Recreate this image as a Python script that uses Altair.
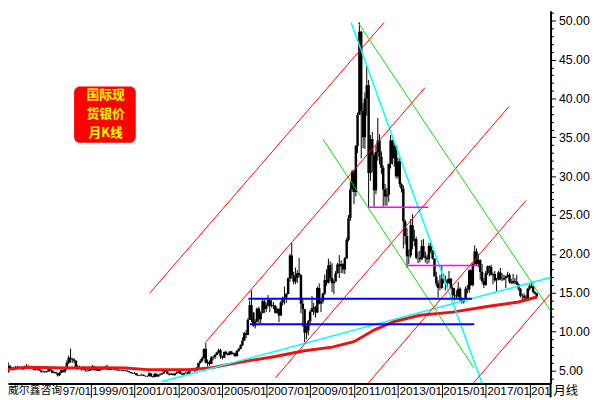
import altair as alt
import pandas as pd

# ---------------- monthly silver candles, 1995/01 - 2019/05 ----------------
opens = [
    4.83, 4.72, 4.63, 4.75, 5.57, 5.30, 5.07, 5.16, 5.42, 5.42, 5.30, 5.20,
    5.16, 5.55, 5.58, 5.48, 5.30, 5.34, 5.06, 5.07, 5.19, 4.98, 4.82, 4.86,
    4.78, 4.86, 5.18, 4.98, 4.70, 4.79, 4.65, 4.37, 4.69, 5.05, 4.87, 5.23,
    5.98, 6.62, 6.51, 6.40, 6.24, 5.34, 5.43, 5.30, 5.15, 5.29, 5.12, 5.08,
    5.00, 5.16, 5.54, 5.02, 5.35, 4.97, 5.11, 5.38, 5.20, 5.33, 5.12, 5.06,
    5.37, 5.30, 5.10, 5.05, 4.99, 5.00, 5.05, 4.98, 4.92, 4.88, 4.80, 4.68,
    4.59, 4.63, 4.39, 4.31, 4.38, 4.45, 4.30, 4.24, 4.29, 4.61, 4.22, 4.14,
    4.58, 4.23, 4.39, 4.48, 4.59, 4.93, 4.88, 4.58, 4.47, 4.56, 4.42, 4.60,
    4.74, 4.88, 4.57, 4.48, 4.66, 4.69, 4.58, 5.16, 5.03, 5.13, 4.99, 5.35,
    5.97, 6.25, 6.58, 7.77, 6.00, 6.09, 5.84, 6.65, 6.72, 6.98, 7.30, 7.58,
    6.82, 6.63, 7.38, 7.13, 6.97, 7.43, 7.10, 7.20, 6.82, 7.53, 7.78, 8.25,
    8.83, 9.83, 9.57, 11.50, 13.40, 12.47, 10.78, 11.26, 12.93, 11.60, 12.37, 13.89,
    12.90, 13.39, 14.05, 13.33, 13.43, 13.31, 12.42, 12.90, 12.08, 13.75, 14.30, 14.40,
    14.83, 16.85, 19.80, 17.25, 16.43, 16.90, 17.50, 17.25, 13.58, 12.87, 9.85, 10.15,
    11.30, 12.55, 13.00, 13.12, 12.45, 15.60, 13.60, 13.90, 14.90, 16.63, 16.30, 18.55,
    16.90, 16.21, 16.40, 17.50, 18.62, 18.40, 18.70, 18.00, 19.40, 21.80, 24.60, 28.30,
    30.60, 27.95, 33.90, 37.90, 48.60, 38.40, 35.00, 40.00, 41.70, 30.40, 34.80, 32.70,
    28.20, 33.10, 34.60, 32.50, 31.10, 28.30, 27.40, 27.60, 31.60, 34.60, 32.30, 33.90,
    30.00, 31.90, 29.00, 28.40, 24.20, 22.30, 19.70, 19.80, 23.70, 21.70, 21.90, 19.50,
    19.50, 19.30, 21.00, 19.70, 19.50, 19.30, 21.00, 20.40, 19.40, 17.10, 16.20, 15.60,
    15.60, 16.80, 16.60, 16.60, 16.30, 16.80, 15.60, 14.70, 14.60, 14.50, 15.50, 14.10,
    13.80, 14.20, 15.50, 15.40, 17.90, 16.00, 18.70, 20.30, 18.70, 19.20, 17.70, 16.50,
    16.00, 17.50, 18.40, 18.30, 17.30, 17.40, 16.60, 16.70, 17.60, 16.70, 16.70, 16.90,
    17.10, 17.30, 16.40, 16.30, 16.50, 16.40, 16.10, 15.50, 14.60, 14.60, 14.40, 14.20,
    15.50, 15.90, 15.80, 15.10, 14.90,
]
highs = [
    4.88, 4.76, 4.80, 6.04, 5.72, 5.40, 5.30, 5.58, 5.60, 5.52, 5.42, 5.30,
    5.62, 5.83, 5.65, 5.55, 5.43, 5.38, 5.17, 5.30, 5.25, 5.02, 4.98, 4.90,
    4.95, 5.28, 5.30, 5.00, 4.90, 4.80, 4.67, 4.78, 5.15, 5.10, 5.30, 6.27,
    6.90, 7.81, 6.60, 6.55, 6.30, 5.70, 5.60, 5.35, 5.55, 5.30, 5.12, 5.10,
    5.22, 5.72, 5.55, 5.40, 5.44, 5.20, 5.40, 5.40, 5.60, 5.75, 5.25, 5.40,
    5.45, 5.45, 5.15, 5.20, 5.08, 5.10, 5.07, 5.05, 5.05, 4.90, 4.80, 4.70,
    4.80, 4.65, 4.45, 4.43, 4.58, 4.48, 4.30, 4.33, 4.80, 4.65, 4.30, 4.65,
    4.60, 4.50, 4.68, 4.63, 5.10, 5.05, 4.95, 4.65, 4.70, 4.58, 4.63, 4.85,
    4.98, 4.93, 4.68, 4.68, 4.85, 4.85, 5.25, 5.24, 5.26, 5.20, 5.45, 6.00,
    6.45, 6.80, 7.85, 8.55, 6.40, 6.30, 6.85, 6.90, 7.15, 7.40, 7.80, 7.80,
    6.90, 7.45, 7.55, 7.25, 7.45, 7.50, 7.30, 7.30, 7.60, 7.90, 8.35, 9.25,
    9.95, 10.20, 11.70, 14.00, 15.30, 12.50, 11.60, 13.10, 13.20, 12.60, 14.20, 14.10,
    13.70, 14.70, 14.10, 14.05, 13.80, 13.45, 13.10, 13.00, 13.95, 14.50, 15.80, 14.95,
    16.95, 20.00, 21.40, 17.70, 18.25, 17.90, 19.50, 17.40, 14.35, 12.90, 10.80, 11.50,
    12.80, 14.60, 13.70, 13.30, 15.80, 16.20, 14.20, 15.00, 17.35, 18.00, 19.40, 19.05,
    18.80, 16.70, 17.80, 18.85, 19.85, 19.20, 18.80, 19.60, 22.10, 25.00, 29.30, 30.80,
    30.80, 34.00, 38.20, 49.80, 48.70, 39.40, 40.80, 44.20, 42.40, 35.30, 35.70, 33.00,
    33.90, 37.50, 35.40, 33.20, 31.40, 29.00, 28.50, 31.60, 35.30, 34.70, 34.30, 34.00,
    32.40, 32.30, 29.10, 28.80, 24.40, 23.30, 20.60, 24.50, 25.10, 23.10, 22.20, 20.30,
    20.40, 21.80, 21.90, 20.30, 19.90, 21.40, 21.60, 20.50, 19.40, 17.70, 16.60, 17.30,
    18.50, 17.40, 17.20, 16.80, 17.80, 16.90, 15.80, 15.60, 15.30, 16.40, 15.70, 14.40,
    14.30, 15.80, 16.00, 18.00, 18.00, 18.80, 21.10, 20.70, 20.00, 19.30, 18.70, 16.90,
    17.80, 18.50, 18.50, 18.60, 17.60, 17.80, 16.90, 17.80, 18.20, 17.50, 17.30, 17.20,
    17.70, 17.50, 16.80, 17.40, 16.90, 17.30, 16.20, 15.60, 14.90, 14.90, 14.70, 15.60,
    16.10, 16.20, 15.90, 15.20, 15.00,
]
lows = [
    4.55, 4.50, 4.58, 4.72, 5.20, 5.00, 4.98, 5.12, 5.28, 5.22, 5.15, 5.05,
    5.15, 5.50, 5.40, 5.25, 5.20, 5.02, 4.98, 5.02, 4.95, 4.71, 4.70, 4.67,
    4.70, 4.85, 4.90, 4.65, 4.62, 4.60, 4.22, 4.29, 4.64, 4.71, 4.68, 5.15,
    5.82, 6.00, 5.97, 5.94, 5.30, 5.05, 5.28, 4.95, 5.00, 4.82, 4.82, 4.87,
    4.97, 5.10, 5.00, 4.98, 4.92, 4.89, 5.05, 5.10, 5.12, 5.05, 5.03, 5.05,
    5.15, 5.10, 4.96, 4.95, 4.90, 4.90, 4.90, 4.87, 4.82, 4.72, 4.62, 4.55,
    4.50, 4.37, 4.25, 4.30, 4.34, 4.26, 4.20, 4.15, 4.20, 4.20, 4.06, 4.10,
    4.22, 4.20, 4.35, 4.43, 4.58, 4.80, 4.50, 4.35, 4.40, 4.35, 4.30, 4.52,
    4.62, 4.57, 4.37, 4.45, 4.60, 4.50, 4.52, 4.95, 4.98, 4.80, 4.98, 5.30,
    5.90, 6.10, 6.55, 5.90, 5.50, 5.60, 5.82, 6.30, 6.45, 6.95, 7.15, 6.50,
    6.40, 6.60, 7.00, 6.90, 6.95, 7.05, 6.95, 6.75, 6.85, 7.40, 7.70, 8.15,
    8.80, 9.15, 9.55, 11.50, 11.20, 10.60, 10.40, 11.20, 10.80, 11.10, 12.40, 12.40,
    12.50, 13.20, 12.50, 13.10, 12.90, 12.30, 12.30, 11.20, 12.05, 13.35, 13.50, 13.70,
    14.80, 16.40, 16.80, 16.10, 16.10, 16.25, 17.00, 12.35, 10.60, 8.65, 9.00, 9.50,
    10.80, 12.55, 12.10, 11.80, 12.40, 13.50, 12.50, 13.60, 14.70, 15.90, 16.20, 16.50,
    15.10, 14.80, 16.50, 17.45, 16.90, 17.50, 17.50, 17.40, 19.40, 21.60, 24.25, 28.00,
    26.40, 27.40, 33.00, 37.90, 32.30, 33.60, 33.50, 37.80, 26.00, 29.40, 30.50, 26.10,
    27.70, 32.00, 31.50, 30.30, 26.10, 26.20, 26.20, 26.70, 31.00, 31.50, 31.20, 29.70,
    29.70, 28.60, 27.90, 20.70, 21.20, 18.20, 18.70, 19.50, 20.60, 21.00, 19.30, 18.80,
    18.90, 19.20, 19.50, 18.90, 18.70, 18.80, 20.10, 19.30, 17.10, 15.80, 14.40, 15.30,
    15.50, 16.20, 15.30, 15.70, 16.10, 15.50, 14.30, 14.00, 14.10, 14.40, 13.90, 13.60,
    13.60, 14.10, 14.90, 15.00, 15.90, 15.80, 18.50, 18.50, 18.30, 16.70, 16.20, 15.60,
    15.90, 17.30, 17.10, 17.20, 16.10, 16.40, 15.20, 16.60, 16.60, 16.50, 16.60, 15.60,
    16.90, 16.20, 16.10, 16.10, 16.10, 16.00, 15.30, 14.40, 13.90, 14.10, 14.00, 14.10,
    15.30, 15.60, 14.90, 14.70, 14.30,
]
closes = [
    4.72, 4.63, 4.75, 5.57, 5.30, 5.07, 5.16, 5.42, 5.42, 5.30, 5.20, 5.16,
    5.55, 5.58, 5.48, 5.30, 5.34, 5.06, 5.07, 5.19, 4.98, 4.82, 4.86, 4.78,
    4.86, 5.18, 4.98, 4.70, 4.79, 4.65, 4.37, 4.69, 5.05, 4.87, 5.23, 5.98,
    6.62, 6.51, 6.40, 6.24, 5.34, 5.43, 5.30, 5.15, 5.29, 5.12, 5.08, 5.00,
    5.16, 5.54, 5.02, 5.35, 4.97, 5.11, 5.38, 5.20, 5.33, 5.12, 5.06, 5.37,
    5.30, 5.10, 5.05, 4.99, 5.00, 5.05, 4.98, 4.92, 4.88, 4.80, 4.68, 4.59,
    4.63, 4.39, 4.31, 4.38, 4.45, 4.30, 4.24, 4.29, 4.61, 4.22, 4.14, 4.58,
    4.23, 4.39, 4.48, 4.59, 4.93, 4.88, 4.58, 4.47, 4.56, 4.42, 4.60, 4.74,
    4.88, 4.57, 4.48, 4.66, 4.69, 4.58, 5.16, 5.03, 5.13, 4.99, 5.35, 5.97,
    6.25, 6.58, 7.77, 6.00, 6.09, 5.84, 6.65, 6.72, 6.98, 7.30, 7.58, 6.82,
    6.63, 7.38, 7.13, 6.97, 7.43, 7.10, 7.20, 6.82, 7.53, 7.78, 8.25, 8.83,
    9.83, 9.57, 11.50, 13.40, 12.47, 10.78, 11.26, 12.93, 11.60, 12.37, 13.89, 12.90,
    13.39, 14.05, 13.33, 13.43, 13.31, 12.42, 12.90, 12.08, 13.75, 14.30, 14.40, 14.83,
    16.85, 19.80, 17.25, 16.43, 16.90, 17.50, 17.25, 13.58, 12.87, 9.85, 10.15, 11.30,
    12.55, 13.00, 13.12, 12.45, 15.60, 13.60, 13.90, 14.90, 16.63, 16.30, 18.55, 16.90,
    16.21, 16.40, 17.50, 18.62, 18.40, 18.70, 18.00, 19.40, 21.80, 24.60, 28.30, 30.60,
    27.95, 33.90, 37.90, 48.60, 38.40, 35.00, 40.00, 41.70, 30.40, 34.80, 32.70, 28.20,
    33.10, 34.60, 32.50, 31.10, 28.30, 27.40, 27.60, 31.60, 34.60, 32.30, 33.90, 30.00,
    31.90, 29.00, 28.40, 24.20, 22.30, 19.70, 19.80, 23.70, 21.70, 21.90, 19.50, 19.50,
    19.30, 21.00, 19.70, 19.50, 19.30, 21.00, 20.40, 19.40, 17.10, 16.20, 15.60, 15.60,
    16.80, 16.60, 16.60, 16.30, 16.80, 15.60, 14.70, 14.60, 14.50, 15.50, 14.10, 13.80,
    14.20, 15.50, 15.40, 17.90, 16.00, 18.70, 20.30, 18.70, 19.20, 17.70, 16.50, 16.00,
    17.50, 18.40, 18.30, 17.30, 17.40, 16.60, 16.70, 17.60, 16.70, 16.70, 16.90, 17.10,
    17.30, 16.40, 16.30, 16.50, 16.40, 16.10, 15.50, 14.60, 14.60, 14.40, 14.20, 15.50,
    15.90, 15.80, 15.10, 14.90, 14.50,
]
months = [f"{1995 + i // 12}/{i % 12 + 1:02d}/01" for i in range(len(closes))]

# ---------------- long moving average ----------------
ma_dates = ["1995/01/01", "1995/06/01", "1996/03/01", "1997/11/01", "1999/05/01",
            "2000/08/01", "2001/08/01", "2003/07/01", "2004/06/01", "2005/12/01",
            "2007/06/01", "2008/09/01", "2010/01/01", "2011/01/01", "2011/12/01",
            "2012/11/01", "2014/01/01", "2015/07/01", "2017/01/01", "2018/07/01",
            "2019/05/01"]
ma_values = [4.85, 5.25, 5.40, 5.30, 5.35, 5.30, 5.10, 5.10, 5.30, 6.10,
             6.80, 7.50, 8.00, 8.70, 10.20, 11.30, 12.10, 12.50, 13.20, 13.80,
             14.45]

# ---------------- drawn trend lines (start date, start price, end date, end price) ----------------
red_x1 = ["2001/09/12", "2004/03/28", "2007/06/07", "2011/08/29", "2016/06/14"]
red_y1 = [14.95, 8.61, 4.07, 3.40, 3.40]
red_x2 = ["2012/05/17", "2014/03/27", "2018/01/21", "2018/11/05", "2020/02/06"]
red_y2 = [49.80, 41.40, 38.95, 26.90, 15.37]

green_x1 = ["2011/03/07", "2009/08/04"]
green_y1 = [49.80, 34.76]
green_x2 = ["2020/02/06", "2016/06/15"]
green_y2 = [12.07, 5.34]

cyan_x1 = ["2010/11/13", "2002/03/20"]
cyan_y1 = [49.80, 3.53]
cyan_x2 = ["2016/11/01", "2020/02/06"]
cyan_y2 = [3.30, 17.07]

blue_x1 = ["2006/03/10", "2006/04/05"]
blue_x2 = ["2016/05/17", "2016/06/24"]
blue_y = [14.23, 10.93]

magenta_x1 = ["2011/08/27", "2013/06/16"]
magenta_x2 = ["2014/05/19", "2016/09/20"]
magenta_y = [26.00, 18.51]

tick_years = list(range(1999, 2020, 2))
price_ticks = list(range(4, 52))

title_lines = ["国际现", "货银价", "月K线"]
source_text = "威尔鑫咨询"
first_label_tail = "97/01"
period_text = "月线"

# ---------------- chart ----------------
W, H = 550, 378
FONT = "Liberation Sans"
CJK = "Noto Sans CJK SC"

xscale = alt.Scale(domain=[alt.DateTime(year=1995, month=3, date=28),
                           alt.DateTime(year=2019, month=12, date=16)], nice=False)
yscale = alt.Scale(domain=[3.31, 51.31], nice=False, zero=False)

xaxis = alt.Axis(
    title=None, values=[alt.DateTime(year=y, month=1, date=1) for y in tick_years],
    format="%Y/%m",
    labelExpr="year(datum.value) === 2019 ? '201' : datum.label",
    labelAlign="left", labelBaseline="top", labelPadding=-12,
    labelOffset=1, labelFlush=False, labelOverlap=False, tickSize=14, tickWidth=1,
    tickColor="black", domainColor="black", domainWidth=2, labelColor="black",
    labelFont=FONT, labelFontSize=12, grid=False)
yaxis = alt.Axis(
    title=None, orient="right", values=price_ticks,
    labelExpr="datum.value % 5 === 0 ? format(datum.value, '.2f') : ''",
    tickSize={"condition": {"test": "datum.value % 5 === 0", "value": 5}, "value": 3},
    labelPadding=3, labelAlign="left", labelBaseline="middle", labelOverlap=False,
    labelFlush=False, domainColor="black", domainWidth=2, tickColor="black", tickWidth=1,
    labelColor="black", labelFont=FONT, labelFontSize=12.5, grid=False)


def X(field):
    return alt.X(field, scale=xscale, axis=xaxis)


def Y(field):
    return alt.Y(field, scale=yscale, axis=yaxis)


candles = pd.DataFrame({"date": months, "open": opens, "high": highs,
                        "low": lows, "close": closes})

wick = alt.Chart(candles).mark_rule(color="black", strokeWidth=1, clip=True).encode(
    x=X("date:T"), y=Y("low:Q"), y2="high:Q")
body = alt.Chart(candles).mark_rule(color="black", strokeWidth=2.5, clip=True).encode(
    x=X("date:T"), y=Y("open:Q"), y2="close:Q")

ma = alt.Chart(pd.DataFrame({"date": ma_dates, "ma": ma_values})).mark_line(
    color="#ee1111", strokeWidth=3, clip=True).encode(x=X("date:T"), y=Y("ma:Q"))


def seg_layer(x1, y1, x2, y2, color, width):
    df = pd.DataFrame({"date": x1, "y1": y1, "x2": x2, "y2": y2})
    return alt.Chart(df).mark_rule(color=color, strokeWidth=width, clip=True).encode(
        x=X("date:T"), x2="x2:T", y=Y("y1:Q"), y2="y2:Q")


cyan = seg_layer(cyan_x1, cyan_y1, cyan_x2, cyan_y2, "#00ffff", 1.5)
red = seg_layer(red_x1, red_y1, red_x2, red_y2, "#ff0000", 1)
green = seg_layer(green_x1, green_y1, green_x2, green_y2, "#00e000", 1)
blue = seg_layer(blue_x1, blue_y, blue_x2, blue_y, "#0000ff", 2)
magenta = seg_layer(magenta_x1, magenta_y, magenta_x2, magenta_y, "#ff00ff", 1.5)

one = alt.Data(values=[{}])
box = alt.Chart(one).mark_rect(color="#ff0000", cornerRadius=6).encode(
    x=alt.value(67), x2=alt.value(129.5), y=alt.value(77), y2=alt.value(134))
box_texts = [
    alt.Chart(one).mark_text(
        color="#ffff00", font=CJK, fontSize=13, fontWeight="bold", align="center",
        baseline="middle").encode(
        x=alt.value(99), y=alt.value(86 + 19 * i), text=alt.value(line))
    for i, line in enumerate(title_lines)
]

source = alt.Chart(one).mark_text(
    color="black", font=CJK, fontSize=11, align="left", baseline="middle").encode(
    x=alt.value(0), y=alt.value(385.5), text=alt.value(source_text))
tail = alt.Chart(one).mark_text(
    color="black", font=FONT, fontSize=11.5, align="left", baseline="top").encode(
    x=alt.value(55.5), y=alt.value(380.5), text=alt.value(first_label_tail))
period = alt.Chart(one).mark_text(
    color="black", font=CJK, fontSize=12.5, align="left", baseline="middle").encode(
    x=alt.value(553), y=alt.value(385.5), text=alt.value(period_text))
frame_ext = alt.Chart(one).mark_rule(color="black", strokeWidth=2).encode(
    x=alt.value(550), y=alt.value(378), y2=alt.value(392))

chart = alt.layer(
    wick, body, ma, cyan, red, green, blue, magenta,
    box, *box_texts, source, tail, period, frame_ext
).properties(
    width=W, height=H,
    padding={"left": 0, "top": 0, "right": 42, "bottom": 14},
    autosize=alt.AutoSizeParams(type="none"),
).configure(background="white").configure_view(stroke=None)

chart.save("out.html", embed_options={"renderer": "svg", "actions": False})
